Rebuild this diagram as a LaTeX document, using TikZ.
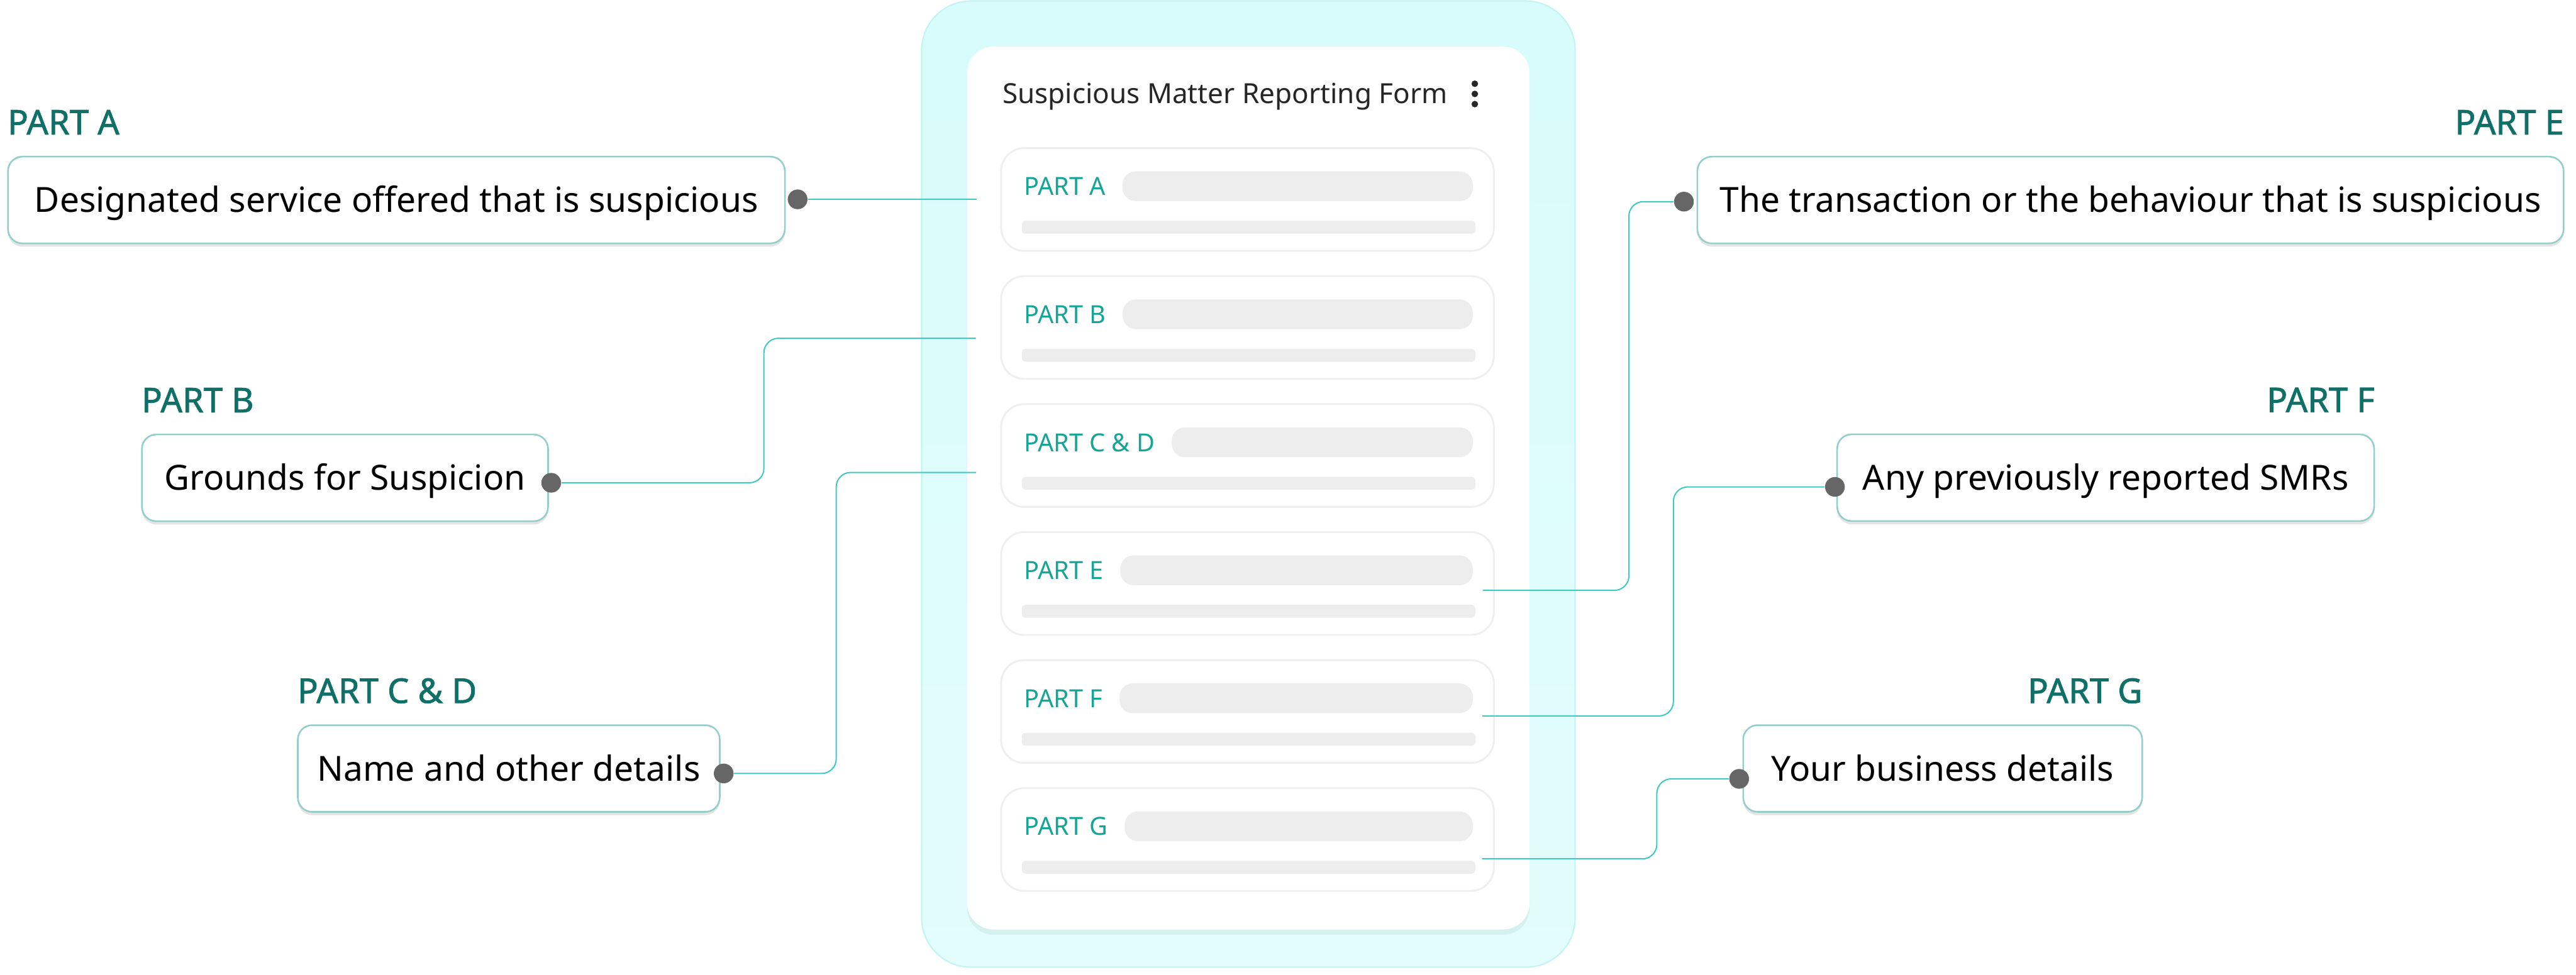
\documentclass[tikz,border=0pt]{standalone}
\usepackage{fontspec}
\setmainfont{Noto Sans}
\newfontfamily\partfont{Noto Sans}[FakeBold=1.4]
\usepackage{tikz}
\usetikzlibrary{calc, shadows, positioning}
\definecolor{smrTeal}{HTML}{0E7066}
\definecolor{smrTealL}{HTML}{15A596}
\definecolor{smrLine}{HTML}{3FCAC1}
\definecolor{smrEdge}{HTML}{93CFC8}
\definecolor{smrDot}{HTML}{666666}
\definecolor{smrPanelT}{HTML}{D7FCFB}
\definecolor{smrPanelB}{HTML}{E3FCFC}
\definecolor{smrPanelE}{HTML}{C3F4F1}
\definecolor{smrGrey}{HTML}{EDEDED}
\definecolor{smrRowE}{HTML}{EFEFEF}
\definecolor{smrInk}{HTML}{262626}
\definecolor{smrShade}{HTML}{B4D9D6}
\tikzset{
	% boxes round the form
	infobox/.style={draw=smrEdge, line width=0.7pt, fill=white, rounded corners=0.22cm,
		minimum height=1.32cm, inner sep=0pt, align=center,
		text height=14.25pt, text depth=3.54pt,
		font=\fontsize{15}{17}\selectfont,
		drop shadow={shadow xshift=0pt, shadow yshift=-0.05cm, opacity=0.15, fill=black!70}},
	partlabel/.style={inner sep=0pt, text=smrTeal, font=\partfont\fontsize{14.8}{17}\selectfont},
	knob/.style={circle, fill=smrDot, inner sep=0pt, minimum size=0.3cm},
	link/.style={draw=smrLine, line width=0.55pt, rounded corners=0.22cm},
	card/.style={fill=white, rounded corners=0.4cm,
		drop shadow={shadow xshift=0pt, shadow yshift=-0.08cm, opacity=0.3, fill=smrShade}},
	% one line of the form: frame, label, field and bar
	pics/formrow/.style={
		code={
			\draw[draw=smrRowE, line width=0.8pt, fill=white, rounded corners=0.35cm] (0,0) rectangle (299.9,62.6);
			\node[inner sep=0pt, anchor=base west, text=smrTealL, font=\fontsize{10.8}{12}\selectfont] (-lab) at (13.6,28.8) {#1};
			\coordinate (-p) at ($(-lab.east)+(10,0)$);
			\fill[smrGrey, rounded corners=0.2cm] (-p |- 0,14.2) rectangle (287.1,32.3);
			\fill[smrGrey, rounded corners=0.05cm] (12.6,44.3) rectangle (288.6,52.1);
		}
	}
}
\begin{document}
\begin{tikzpicture}[x=0.025cm, y=-0.025cm]
	\useasboundingbox (0,0) rectangle (1568,593.6);
	% panel and card
	\shadedraw[top color=smrPanelT, bottom color=smrPanelB, draw=smrPanelE, line width=0.6pt, rounded corners=0.75cm] (561,0.6) rectangle (958.8,589);
	\path[card] (588.7,28.4) rectangle (931,566);
	\node[anchor=base west, inner sep=0pt, text=smrInk, font=\fontsize{12}{14}\selectfont] (title) at (610,63) {Suspicious Matter Reporting Form};
	\foreach \d in {51,57.2,63.4}
		\fill[smrInk] (897.7,\d) circle (0.05cm);
	\pic (rowA) at (609.4,90.2) {formrow={PART A}};
	\pic (rowB) at (609.4,168.15) {formrow={PART B}};
	\pic (rowC) at (609.4,246.1) {formrow={PART C \& D}};
	\pic (rowE) at (609.4,324.05) {formrow={PART E}};
	\pic (rowF) at (609.4,402) {formrow={PART F}};
	\pic (rowG) at (609.4,479.95) {formrow={PART G}};
	% left side
	\node[infobox, minimum width=11.82cm] (boxA) at (241.3,121.8) {Designated service offered that is suspicious};
	\node[infobox, minimum width=6.18cm] (boxB) at (210,291) {Grounds for Suspicion};
	\node[infobox, minimum width=6.42cm] (boxC) at (309.7,468) {Name and other details};
	\node[partlabel, anchor=base west] (tagA) at ($(boxA.north west)+(0,-13)$) {PART A};
	\node[partlabel, anchor=base west] (tagB) at ($(boxB.north west)+(0,-13)$) {PART B};
	\node[partlabel, anchor=base west] (tagC) at ($(boxC.north west)+(0,-13)$) {PART C \& D};
	% right side
	\node[infobox, minimum width=13.18cm] (boxE) at (1296.8,121.8) {The transaction or the behaviour that is suspicious};
	\node[infobox, minimum width=8.17cm] (boxF) at (1281.7,290.9) {Any previously reported SMRs};
	\node[infobox, minimum width=6.07cm] (boxG) at (1182.5,468) {Your business details};
	\node[partlabel, anchor=base east] (tagE) at ($(boxE.north east)+(0,-13)$) {PART E};
	\node[partlabel, anchor=base east] (tagF) at ($(boxF.north east)+(0,-13)$) {PART F};
	\node[partlabel, anchor=base east] (tagG) at ($(boxG.north east)+(0,-13)$) {PART G};
	% dots and links
	\node[knob] (dotA) at (485.5,121.4) {};
	\node[knob] (dotB) at (335.5,294) {};
	\node[knob] (dotC) at (440.5,471) {};
	\node[knob] (dotE) at (1025,122.8) {};
	\node[knob] (dotF) at (1116.9,296.5) {};
	\node[knob] (dotG) at (1058.6,474.3) {};
	\coordinate (endA) at (594.6,121.4);
	\coordinate (bendB) at (465,206);
	\coordinate (endB) at (594,206);
	\coordinate (bendC) at (509,287.7);
	\coordinate (endC) at (594.2,287.7);
	\coordinate (bendE) at (991.5,359.5);
	\coordinate (endE) at (902.5,359.5);
	\coordinate (bendF) at (1018.6,436);
	\coordinate (endF) at (902.3,436);
	\coordinate (bendG) at (1008.5,523);
	\coordinate (endG) at (902,523);
	\draw[link] (dotA) -- (endA);
	\draw[link] (dotB) -| (bendB) -- (endB);
	\draw[link] (dotC) -| (bendC) -- (endC);
	\draw[link] (dotE) -| (bendE) -- (endE);
	\draw[link] (dotF) -| (bendF) -- (endF);
	\draw[link] (dotG) -| (bendG) -- (endG);
\end{tikzpicture}
\end{document}
